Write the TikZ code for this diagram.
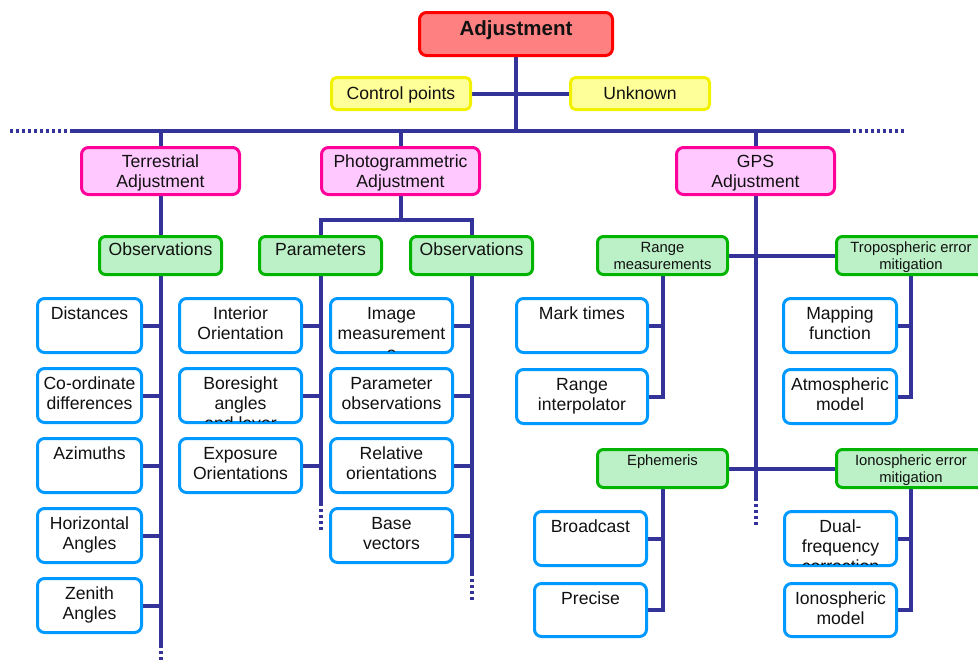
\documentclass[tikz,border=0pt]{standalone}
\usepackage{fontspec}
\setmainfont{Liberation Sans}
\definecolor{ln}{HTML}{333399}
\definecolor{redb}{HTML}{FF0000}
\definecolor{redf}{HTML}{FF8080}
\definecolor{yelb}{HTML}{F2F200}
\definecolor{yelf}{HTML}{FFFF99}
\definecolor{pinkb}{HTML}{FF0099}
\definecolor{pinkf}{HTML}{FFC8FF}
\definecolor{greenb}{HTML}{00B400}
\definecolor{greenf}{HTML}{BCF0C6}
\definecolor{blueb}{HTML}{0099FF}
\definecolor{txt}{HTML}{111111}
\pgfdeclarelayer{background}
\pgfsetlayers{background,main}
\tikzset{
  conn/.style={draw=ln, line width=4pt},
  dotl/.style={draw=ln, line width=4pt, dash pattern=on 3pt off 3pt},
  boxbase/.style={rectangle, rounded corners=7pt, line width=3pt, inner sep=0pt},
  txtbase/.style={anchor=north, inner sep=0pt, align=center, text=txt},
  bluebox/.style={boxbase, draw=blueb, fill=white},
  bluebox text/.style={txtbase, yshift=-8pt, font={\fontsize{17.6}{20}\selectfont}},
  greenbox/.style={boxbase, rounded corners=6pt, draw=greenb, fill=greenf},
  greenbox text/.style={txtbase, yshift=-6pt, font={\fontsize{17.6}{20}\selectfont}},
  greensmall/.style={boxbase, rounded corners=6pt, draw=greenb, fill=greenf},
  greensmall text/.style={txtbase, yshift=-5.8pt, font={\fontsize{14.8}{17}\selectfont}},
  pinkbox/.style={boxbase, draw=pinkb, fill=pinkf},
  pinkbox text/.style={txtbase, yshift=-7pt, font={\fontsize{17.6}{20}\selectfont}},
  yelbox/.style={boxbase, rounded corners=5pt, draw=yelb, fill=yelf},
  yelbox text/.style={txtbase, yshift=-9.5pt, font={\fontsize{17.6}{20}\selectfont}},
  redbox/.style={boxbase, draw=redb, fill=redf},
  redbox text/.style={txtbase, yshift=-7pt, font={\fontsize{20.5}{24}\selectfont\bfseries}},
}
% #1 style, #2 name, #3 x1, #4 y1, #5 x2, #6 y2, #7 text
\newcommand\bx[7]{%
  \node[#1, minimum width={#5-#3-3}, minimum height={#6-#4-3}] (#2) at ({(#3+#5)/2},{(#4+#6)/2}) {};
  \begin{scope}
    \clip ({#3+2},{#4+2}) rectangle ({#5-2},{#6-3});
    \node[#1 text] (#2t) at (#2.north) {\strut #7};
  \end{scope}}
\begin{document}
\begin{tikzpicture}[x=1pt,y=-1pt]
\useasboundingbox (0,0) rectangle (978,664);
\clip (0,0) rectangle (978,664);

% top
\bx{redbox}{adj}{418}{11}{614}{57}{Adjustment}
\bx{yelbox}{cp}{330}{76}{472}{111}{Control points}
\bx{yelbox}{unk}{569}{76}{711}{111}{Unknown}

% second level
\bx{pinkbox}{terr}{80}{146}{241}{196}{Terrestrial\\Adjustment}
\bx{pinkbox}{photo}{320}{146}{481}{196}{Photogrammetric\\Adjustment}
\bx{pinkbox}{gps}{675}{146}{836}{196}{GPS\\Adjustment}

% green
\bx{greenbox}{tobs}{98}{235}{223}{276}{Observations}
\bx{greenbox}{param}{258}{235}{383}{276}{Parameters}
\bx{greenbox}{pobs}{409}{235}{534}{276}{Observations}
\bx{greensmall}{range}{596}{235}{729}{276}{Range\\measurements}
\bx{greensmall}{tropo}{835}{235}{987}{276}{Tropospheric error\\mitigation}
\bx{greensmall}{eph}{596}{448}{729}{489}{Ephemeris}
\bx{greensmall}{iono}{835}{448}{987}{489}{Ionospheric error\\mitigation}

% terrestrial observations
\bx{bluebox}{dist}{36}{297}{143}{354}{Distances}
\bx{bluebox}{coord}{36}{367}{143}{424}{Co-ordinate\\differences}
\bx{bluebox}{azim}{36}{437}{143}{494}{Azimuths}
\bx{bluebox}{horiz}{36}{507}{143}{564}{Horizontal\\Angles}
\bx{bluebox}{zen}{36}{577}{143}{634}{Zenith\\Angles}

% parameters
\bx{bluebox}{intor}{178}{297}{303}{354}{Interior\\Orientation}
\bx{bluebox}{bore}{178}{367}{303}{424}{Boresight\\angles\\and lever}
\bx{bluebox}{expo}{178}{437}{303}{494}{Exposure\\Orientations}

% photogrammetric observations
\bx{bluebox}{imgm}{329}{297}{454}{354}{Image\\measurement\\s}
\bx{bluebox}{parobs}{329}{367}{454}{424}{Parameter\\observations}
\bx{bluebox}{relor}{329}{437}{454}{494}{Relative\\orientations}
\bx{bluebox}{basev}{329}{507}{454}{564}{Base\\vectors}

% GPS
\bx{bluebox}{mark}{515}{297}{649}{354}{Mark times}
\bx{bluebox}{rint}{515}{368}{649}{425}{Range\\interpolator}
\bx{bluebox}{map}{782}{297}{898}{354}{Mapping\\function}
\bx{bluebox}{atm}{782}{368}{898}{425}{Atmospheric\\model}
\bx{bluebox}{broad}{533}{510}{648}{567}{Broadcast}
\bx{bluebox}{prec}{533}{582}{648}{638}{Precise}
\bx{bluebox}{dual}{783}{510}{898}{567}{Dual-\\frequency\\correction}
\bx{bluebox}{imodel}{783}{582}{898}{638}{Ionospheric\\model}

\begin{pgfonlayer}{background}
  \coordinate (busLL) at (10,131);
  \coordinate (busL) at (72,131);
  \coordinate (busR) at (847,131);
  \coordinate (busRR) at (906,131);
  \draw[conn] (busL) -- (busR);
  \draw[dotl] (busLL) -- (busL);
  \draw[dotl] (busR) -- (busRR);
  \draw[conn] (adj.south) -- (adj.south |- busL);
  \draw[conn] (cp.east) -- (unk.west);

  % terrestrial
  \coordinate (tend) at (160.5,645);
  \coordinate (tdot) at (160.5,662);
  \draw[conn] (terr.north |- busL) -- (terr.north);
  \draw[conn] (terr.south) -- (tobs.north);
  \draw[conn] (tobs.south) -- (tend);
  \draw[dotl] (tend) -- (tdot);
  \foreach \n in {dist,coord,azim,horiz,zen}
    \draw[conn] (\n.east) -- (\n.east -| tobs.south);

  % photogrammetric
  \coordinate (pj) at (400.5,220);
  \draw[conn] (photo.north |- busL) -- (photo.north);
  \draw[conn] (photo.south) -- (pj);
  \draw[conn] (param.north) |- (pj) -| (pobs.north);
  \coordinate (paend) at (320.5,503);
  \coordinate (padot) at (320.5,530);
  \draw[conn] (param.south) -- (paend);
  \draw[dotl] (paend) -- (padot);
  \foreach \n in {intor,bore,expo}
    \draw[conn] (\n.east) -- (\n.east -| param.south);
  \coordinate (poend) at (471.5,573);
  \coordinate (podot) at (471.5,600);
  \draw[conn] (pobs.south) -- (poend);
  \draw[dotl] (poend) -- (podot);
  \foreach \n in {imgm,parobs,relor,basev}
    \draw[conn] (\n.east) -- (\n.east -| pobs.south);

  % GPS
  \coordinate (gend) at (755.5,498);
  \coordinate (gdot) at (755.5,527);
  \draw[conn] (gps.north |- busL) -- (gps.north);
  \draw[conn] (gps.south) -- (gend);
  \draw[dotl] (gend) -- (gdot);
  \draw[conn] (range.east) -- (tropo.west);
  \draw[conn] (eph.east) -- (iono.west);
  \draw[conn] (range.south) |- (rint.east);
  \draw[conn] (mark.east) -- (mark.east -| range.south);
  \draw[conn] (tropo.south) |- (atm.east);
  \draw[conn] (map.east) -- (map.east -| tropo.south);
  \draw[conn] (eph.south) |- (prec.east);
  \draw[conn] (broad.east) -- (broad.east -| eph.south);
  \draw[conn] (iono.south) |- (imodel.east);
  \draw[conn] (dual.east) -- (dual.east -| iono.south);
\end{pgfonlayer}
\end{tikzpicture}
\end{document}
